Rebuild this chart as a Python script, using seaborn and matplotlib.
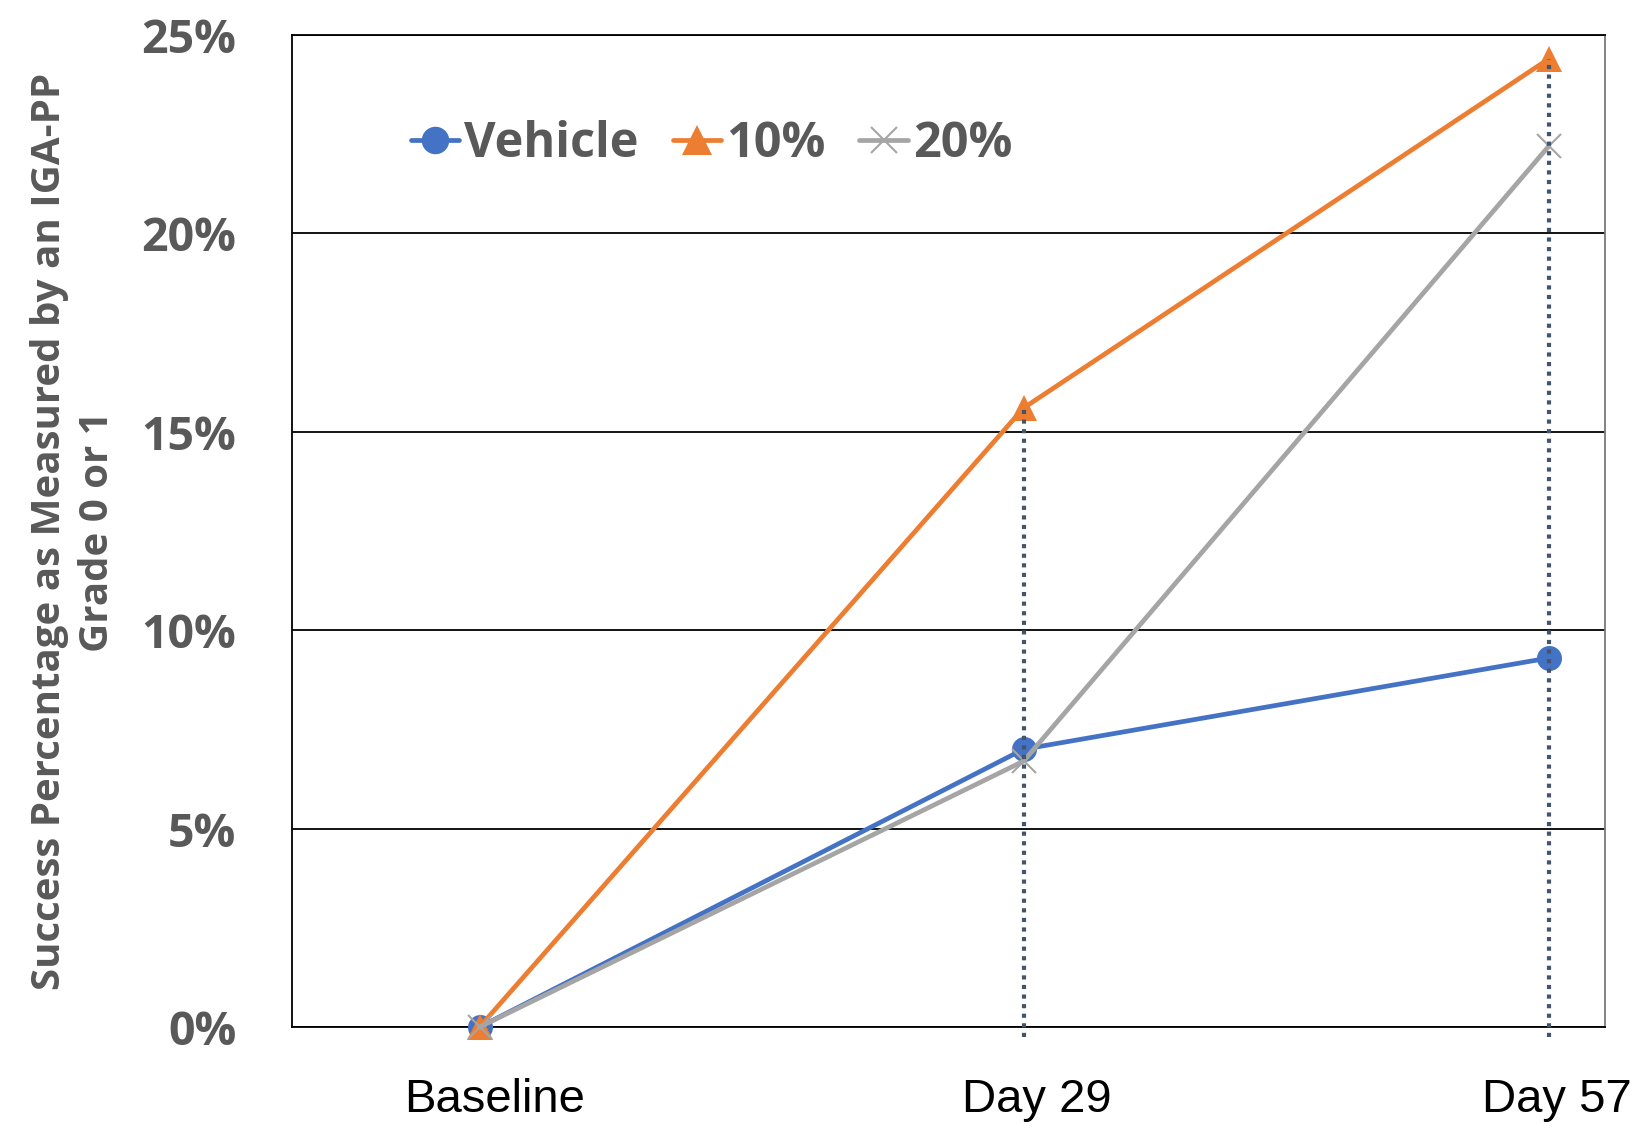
import matplotlib
matplotlib.use("Agg")
import matplotlib.pyplot as plt
import matplotlib.transforms as mtransforms
import seaborn as sns

# Study visits (day number) and their axis labels
visit_days = [0, 29, 57]
visit_labels = ["Baseline", "Day 29", "Day 57"]

# Success rate (%) per treatment arm
vehicle = [0.0, 7.0, 9.3]
dose_10 = [0.0, 15.6, 24.4]
dose_20 = [0.0, 6.7, 22.2]

series_names = ["Vehicle", "10%", "20%"]
y_ticks = [0, 5, 10, 15, 20, 25]

sns.set_theme(style="white")
plt.rcParams["font.family"] = ["Open Sans", "DejaVu Sans"]

fig = plt.figure(figsize=(16.34, 11.26), dpi=100)
ax = fig.add_axes([0.1787, 0.0879, 0.8036, 0.8810])

text_grey = "#595959"
styles = [
    dict(color="#4472C4", marker="o", markersize=18, mew=0),
    dict(color="#ED7D31", marker="^", markersize=19, mew=0),
    dict(color="#A5A5A5", marker="x", markersize=17, mew=1.5),
]

for name, values, st in zip(series_names, [vehicle, dose_10, dose_20], styles):
    sns.lineplot(x=visit_days, y=values, ax=ax, color=st["color"], marker=st["marker"],
                 markersize=st["markersize"], markeredgecolor=st["color"],
                 markeredgewidth=st["mew"], linewidth=3.4, label=name, zorder=3,
                 clip_on=False)

# Drop lines from the highest arm at each follow-up visit
for i, day in enumerate(visit_days[1:], start=1):
    top = max(vehicle[i], dose_10[i], dose_20[i])
    ax.vlines(day, -0.25, top, colors="#44546A", linestyles=(0, (1, 1.3)),
              linewidth=3.0, zorder=5, clip_on=False)

ax.set_xlim(-10, 60)
ax.set_ylim(0, 25)
ax.set_yticks(y_ticks)
ax.set_yticklabels([f"{v}%" for v in y_ticks], fontsize=33.5, fontweight="bold",
                   color=text_grey)
ax.set_xticks(visit_days)
ax.set_xticklabels(visit_labels, fontsize=34, color="black",
                   family=["Liberation Sans", "DejaVu Sans"])
ax.tick_params(axis="x", length=0, pad=37)
ax.tick_params(axis="y", length=0, pad=40)
for lbl, dx in zip(ax.get_xticklabels(), [0.15, 0.13, 0.08]):
    lbl.set_transform(lbl.get_transform()
                      + mtransforms.ScaledTranslation(dx, 0, fig.dpi_scale_trans))

ax.yaxis.grid(True, color="black", linewidth=1.3)
ax.set_axisbelow(True)
for side in ["left", "bottom", "top"]:
    ax.spines[side].set_color("black")
    ax.spines[side].set_linewidth(1.3)
ax.spines["right"].set_color("#7a7a7a")
ax.spines["right"].set_linewidth(1.3)

ax.set_xlabel("")
ax.set_ylabel("")
fig.text(0.045, 0.528, "Success Percentage as Measured by an IGA-PP\nGrade 0 or 1",
         rotation=90, ha="center", va="center", multialignment="center",
         fontsize=29, fontweight="bold", color=text_grey, linespacing=1.3)

leg = ax.legend(loc="center left", bbox_to_anchor=(0.057, 0.89), ncol=3, frameon=False,
                handlelength=1.0, handletextpad=0.1, columnspacing=0.7,
                prop=dict(family="Open Sans", weight="bold", size=35), markerscale=1.1)
for t in leg.get_texts():
    t.set_color(text_grey)

fig.savefig("out.png", dpi=100)
